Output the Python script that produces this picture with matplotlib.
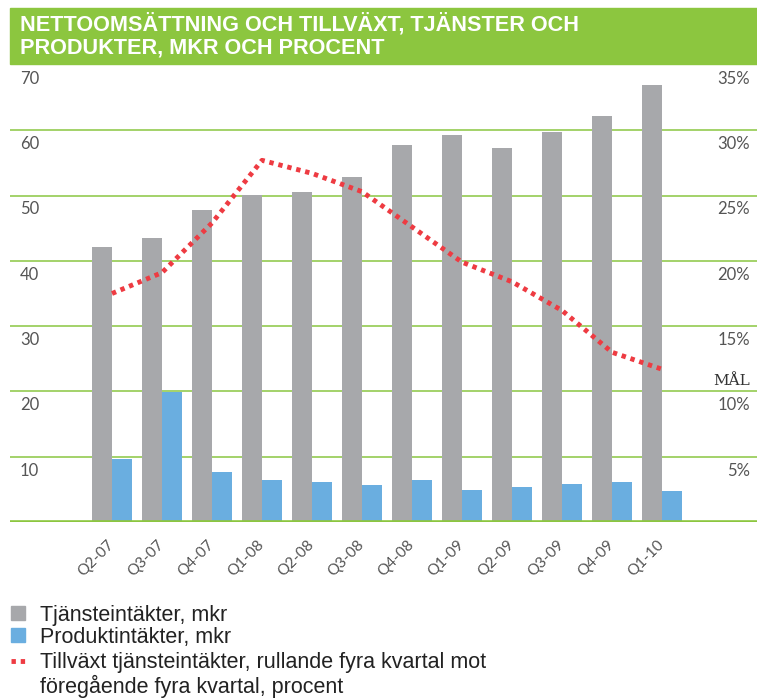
import matplotlib
matplotlib.use('Agg')
import matplotlib.pyplot as plt
from matplotlib.lines import Line2D
from matplotlib.patches import Rectangle
import numpy as np

QUARTERS = ['Q2-07', 'Q3-07', 'Q4-07', 'Q1-08', 'Q2-08', 'Q3-08',
            'Q4-08', 'Q1-09', 'Q2-09', 'Q3-09', 'Q4-09', 'Q1-10']
SERVICES = [42.1, 43.5, 47.8, 50.1, 50.5, 52.9, 57.8, 59.3, 57.3, 59.8, 62.2, 67.0]
PRODUCTS = [9.6, 19.9, 7.6, 6.5, 6.2, 5.6, 6.5, 4.9, 5.3, 5.8, 6.2, 4.7]
GROWTH = [17.5, 19.1, 22.9, 27.7, 26.7, 25.3, 22.6, 19.9, 18.4, 16.2, 13.0, 11.7]

LEFT_TICKS = [10, 20, 30, 40, 50, 60, 70]
RIGHT_TICKS = [5, 10, 15, 20, 25, 30, 35]
GOAL = 10

TITLE = 'NETTOOMSÄTTNING OCH TILLVÄXT, TJÄNSTER OCH\nPRODUKTER, MKR OCH PROCENT'
LEGEND = ['Tjänsteintäkter, mkr',
          'Produktintäkter, mkr',
          'Tillväxt tjänsteintäkter, rullande fyra kvartal mot\nföregående fyra kvartal, procent']

GREEN = '#8cc63f'
GRID = '#9ccf5e'
GREY = '#a7a8ab'
BLUE = '#6aaee0'
RED = '#ee3b42'
TXT = '#555555'
DOTS = (0, (0.9, 1.0))

W, H = 757, 699
fig = plt.figure(figsize=(W / 100, H / 100), dpi=100)

# title band
fig.patches.append(Rectangle((10 / W, 1 - 64 / H), 1 - 10 / W, 56 / H,
                             transform=fig.transFigure, color=GREEN, zorder=0))
fig.text(20 / W, 1 - 36 / H, TITLE, color='white', fontsize=15.6, fontweight='bold',
         family='Liberation Sans', va='center', ha='left', linespacing=1.1)

ax = fig.add_axes([10 / W, 1 - 522 / H, 1 - 10 / W, (522 - 65) / H])
x = np.arange(len(QUARTERS))
bw = 0.4
ax.bar(x - bw / 2, SERVICES, width=bw, color=GREY, zorder=2)
ax.bar(x + bw / 2, PRODUCTS, width=bw, color=BLUE, zorder=2)

ax.set_xlim(-2.04, 12.9)
ax.set_ylim(0, 70)
for t in LEFT_TICKS[:-1]:
    ax.axhline(t, color=GRID, lw=1.3, zorder=1)
ax.axhline(0, color=GREEN, lw=2.6, zorder=3)
for s in ax.spines.values():
    s.set_visible(False)
ax.set_yticks([])

axw = W - 10
for t in LEFT_TICKS:
    ax.text(10 / axw, t - 0.9, str(t), transform=ax.get_yaxis_transform(),
            ha='left', va='top', fontsize=12, color=TXT, family='Lato')

ax.set_xticks(x - 0.1)
ax.set_xticklabels(QUARTERS, rotation=45, ha='right', va='top', rotation_mode='anchor',
                   fontsize=11, color=TXT, family='Lato')
ax.tick_params(axis='x', length=0, pad=11)

ax2 = ax.twinx()
ax2.set_ylim(0, 35)
ax2.plot(x, GROWTH, color=RED, lw=3.5, linestyle=DOTS, dash_capstyle='butt', zorder=4)
ax2.set_yticks([])
for s in ax2.spines.values():
    s.set_visible(False)
for t in RIGHT_TICKS:
    ax2.text(740 / axw, t - 0.45, f'{t}%', transform=ax2.get_yaxis_transform(),
             ha='right', va='top', fontsize=12, color=TXT, family='Lato')
ax2.text(740 / axw, GOAL + 0.3, 'MÅL', transform=ax2.get_yaxis_transform(),
         ha='right', va='bottom', fontsize=11, color='#333333', family='DejaVu Serif')

# legend
fig.add_artist(Line2D([18 / W], [1 - 613 / H], marker='s', ms=10.5, color=GREY,
                      transform=fig.transFigure))
fig.add_artist(Line2D([18 / W], [1 - 635 / H], marker='s', ms=10.5, color=BLUE,
                      transform=fig.transFigure))
fig.add_artist(Line2D([11 / W, 26 / W], [1 - 661 / H] * 2, color=RED, lw=3.5,
                      linestyle=DOTS, dash_capstyle='butt', transform=fig.transFigure))
legend_font = dict(fontsize=15.5, color='#222222', ha='left', family='Liberation Sans')
fig.text(40 / W, 1 - 621 / H, LEGEND[0], va='baseline', **legend_font)
fig.text(40 / W, 1 - 643 / H, LEGEND[1], va='baseline', **legend_font)
fig.text(40 / W, 1 - 652 / H, LEGEND[2], va='top', linespacing=1.1, **legend_font)

fig.savefig('out.png', dpi=100)
